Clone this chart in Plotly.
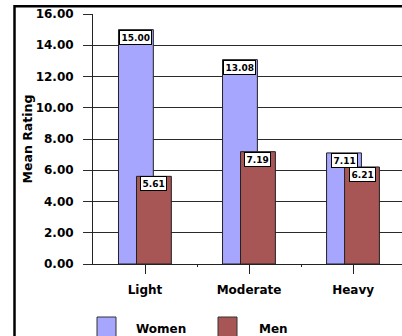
import plotly.graph_objects as go

# Mean rating by consumption level, split by sex
categories = ["Light", "Moderate", "Heavy"]
women = [15.00, 13.08, 7.11]
men = [5.61, 7.19, 6.21]
series_names = ["Women", "Men"]
y_ticks = [0, 2, 4, 6, 8, 10, 12, 14, 16]

WOMEN_COLOR = "#A6A6FF"
MEN_COLOR = "#A85555"
FONT = "DejaVu Sans"
BAR_W = 0.335

x = list(range(len(categories)))

fig = go.Figure()
fig.add_trace(go.Bar(
    x=x, y=women, name=series_names[0], width=BAR_W, offset=-0.255,
    marker=dict(color=WOMEN_COLOR, line=dict(color="#222222", width=1)),
    showlegend=False,
))
fig.add_trace(go.Bar(
    x=x, y=men, name=series_names[1], width=BAR_W, offset=-0.082,
    marker=dict(color=MEN_COLOR, line=dict(color="#222222", width=1)),
    showlegend=False,
))

# value boxes at the top of each bar
for vals, off in ((women, -0.255), (men, -0.082)):
    for xi, v in zip(x, vals):
        fig.add_annotation(
            x=xi + off + BAR_W / 2, y=v, xref="x", yref="y",
            text=f"{v:.2f}", showarrow=False,
            xanchor="center", yanchor="top",
            bgcolor="white", bordercolor="black", borderwidth=1, borderpad=1.5,
            font=dict(family=FONT, size=9, color="black", weight="bold"),
        )

# legend drawn as swatches and labels below the axis
legend_items = [(series_names[0], WOMEN_COLOR, 97, 134), (series_names[1], MEN_COLOR, 218, 257)]
L, W, T, H = 93, 309, 14, 250
def px_x(p):
    return (p - L) / W
def px_y(p):
    return (T + H - p) / H

for name, col, sx, tx in legend_items:
    fig.add_shape(type="rect", xref="paper", yref="paper",
                  x0=px_x(sx), x1=px_x(sx + 19), y0=px_y(317), y1=px_y(350),
                  fillcolor=col, line=dict(color="#333333", width=1))
    fig.add_annotation(x=px_x(tx), y=px_y(329), xref="paper", yref="paper",
                       text=name, showarrow=False, xanchor="left", yanchor="middle",
                       font=dict(family=FONT, size=12, color="black", weight="bold"))

# outer frame (top and left edges visible)
fig.add_shape(type="line", xref="paper", yref="paper",
              x0=px_x(14.5), x1=px_x(420), y0=px_y(6.3), y1=px_y(6.3),
              line=dict(color="black", width=2.5))
fig.add_shape(type="line", xref="paper", yref="paper",
              x0=px_x(14.5), x1=px_x(14.5), y0=px_y(5), y1=px_y(350),
              line=dict(color="black", width=2.5))

fig.update_layout(
    width=402, height=336,
    margin=dict(l=93, r=0, t=14, b=72, pad=0),
    barmode="overlay",
    plot_bgcolor="white", paper_bgcolor="white",
    font=dict(family=FONT, size=12, color="black", weight="bold"),
    xaxis=dict(
        range=[-0.5, 2.47], tickmode="array", tickvals=x, ticktext=categories,
        showgrid=False, zeroline=False, showline=True, linecolor="#222222", linewidth=1,
        ticks="outside", ticklen=9, tickcolor="#222222", ticklabelstandoff=6,
        tickfont=dict(family=FONT, size=12, color="black", weight="bold"),
        minor=dict(tickmode="array", tickvals=[0.5, 1.5], ticks="outside", ticklen=2,
                   tickcolor="#222222", showgrid=False),
    ),
    yaxis=dict(
        range=[0, 16], tickmode="array", tickvals=y_ticks, tickformat=".2f",
        showgrid=True, gridcolor="#2a2a2a", gridwidth=1.2,
        zeroline=False, showline=True, linecolor="#222222", linewidth=1,
        ticks="outside", ticklen=9, tickcolor="#2a2a2a", ticklabelstandoff=7,
        tickfont=dict(family=FONT, size=12, color="black", weight="bold"),
        title=dict(text="Mean Rating", standoff=0,
                   font=dict(family=FONT, size=12.5, color="black", weight="bold")),
    ),
)

fig.write_html("out.html")
